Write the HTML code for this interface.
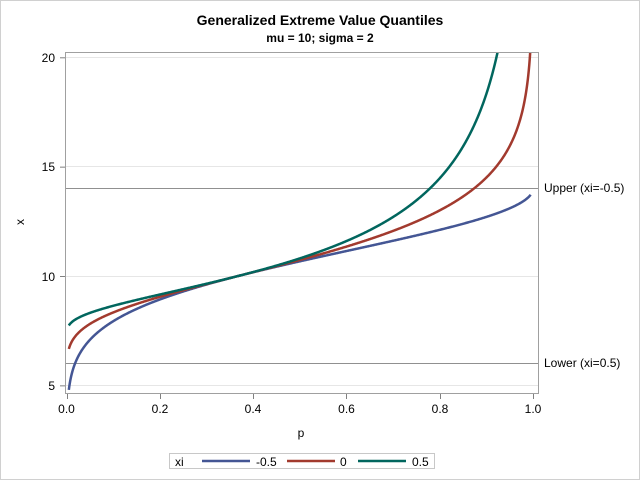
<!DOCTYPE html>
<html><head><meta charset="utf-8"><style>
body{margin:0;background:#fff}
svg{display:block;font-family:"Liberation Sans",Arial,sans-serif}
</style></head><body>
<svg id="s" width="640" height="480" viewBox="0 0 640 480">
<rect x="0.5" y="0.5" width="639" height="479" fill="#fff" stroke="#d0d0d0"/>
<text x="320" y="25" text-anchor="middle" font-size="14" font-weight="bold">Generalized Extreme Value Quantiles</text>
<text x="320" y="42" text-anchor="middle" font-size="12" font-weight="bold">mu = 10; sigma = 2</text>
<g stroke="#e6e6e6" stroke-width="1">
<line x1="65" x2="538" y1="385.5" y2="385.5"/>
<line x1="65" x2="538" y1="276.5" y2="276.5"/>
<line x1="65" x2="538" y1="166.5" y2="166.5"/>
<line x1="65" x2="538" y1="57.5" y2="57.5"/>
</g>
<g stroke="#909090" stroke-width="1">
<line x1="65" x2="538" y1="188.5" y2="188.5"/>
<line x1="65" x2="538" y1="363.5" y2="363.5"/>
</g>
<g id="curves" fill="none" stroke-width="2.5"></g>
<rect x="65.5" y="52.5" width="473" height="341" fill="none" stroke="#a0a0a0"/>
<g font-size="12" fill="#000">
<text x="544" y="192">Upper (xi=-0.5)</text>
<text x="544" y="367">Lower (xi=0.5)</text>
</g>
<g stroke="#808080" id="ticks"></g>
<g font-size="12" text-anchor="end">
<text x="55" y="390">5</text><text x="55" y="281">10</text><text x="55" y="171">15</text><text x="55" y="62">20</text>
</g>
<g font-size="12" text-anchor="middle">
<text x="66.5" y="413">0.0</text><text x="160" y="413">0.2</text><text x="253" y="413">0.4</text><text x="346.5" y="413">0.6</text><text x="440" y="413">0.8</text><text x="533" y="413">1.0</text>
<text x="301" y="437">p</text>
<text x="24" y="222" transform="rotate(-90 24 222)">x</text>
</g>
<rect x="169.5" y="453.5" width="265" height="15" fill="#fff" stroke="#c8c8c8"/>
<g font-size="12">
<text x="175" y="466">xi</text>
<line x1="202" x2="250" y1="461" y2="461" stroke="#445694" stroke-width="2.5"/>
<text x="256" y="466">-0.5</text>
<line x1="287" x2="335" y1="461" y2="461" stroke="#a23a2e" stroke-width="2.5"/>
<text x="340" y="466">0</text>
<line x1="358" x2="406" y1="461" y2="461" stroke="#01665e" stroke-width="2.5"/>
<text x="412" y="466">0.5</text>
</g>
</svg>
<script>
var ns="http://www.w3.org/2000/svg";
function X(p){return 66.5+p*466.5;}
function Y(v){return 276-(v-10)*21.87;}
var cols={"-0.5":"#445694","0":"#a23a2e","0.5":"#01665e"};
var g=document.getElementById("curves");
[-0.5,0,0.5].forEach(function(xi){
 var d="";
 for(var i=0;i<=990;i++){
  var p=0.005+i*0.001; var L=-Math.log(p); var v;
  if(xi==0) v=10-2*Math.log(L); else v=10+2/xi*(Math.pow(L,-xi)-1);
  if(v>20.3) break;
  d+=(d?"L":"M")+X(p).toFixed(2)+","+Y(v).toFixed(2);
 }
 var pa=document.createElementNS(ns,"path");pa.setAttribute("d",d);pa.setAttribute("stroke",cols[String(xi)]);g.appendChild(pa);
});
var t=document.getElementById("ticks");
function ln(a,b,c,d){var l=document.createElementNS(ns,"line");l.setAttribute("x1",a);l.setAttribute("y1",b);l.setAttribute("x2",c);l.setAttribute("y2",d);t.appendChild(l);}
[5,10,15,20].forEach(function(v){ln(60,Y(v)+0.5,65,Y(v)+0.5);});
[0,0.2,0.4,0.6,0.8,1].forEach(function(p){ln(Math.round(X(p))+0.5,394,Math.round(X(p))+0.5,399);});
</script>
</body></html>
